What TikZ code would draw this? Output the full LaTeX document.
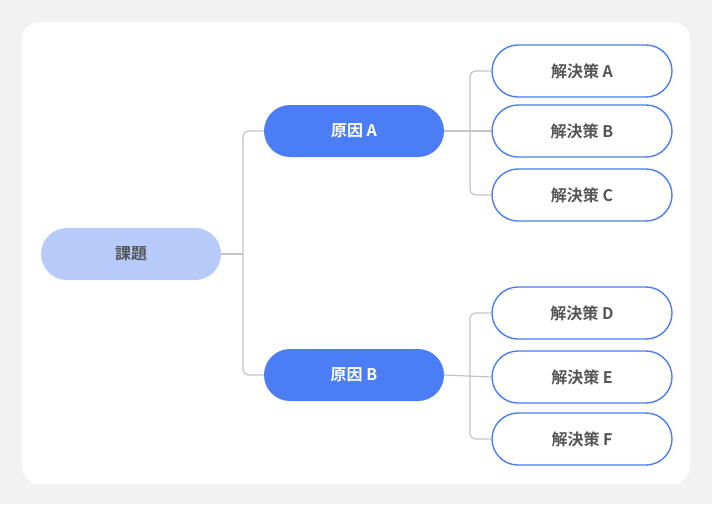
\documentclass[tikz,border=0pt]{standalone}
\usepackage{fontspec}
\setmainfont{Noto Sans CJK JP}[BoldFont={* Bold}]
\begin{document}
\begin{tikzpicture}[x=1pt,y=-1pt,
  box/.style={rounded corners=26pt,minimum width=180pt,minimum height=52pt,font=\bfseries\fontsize{16}{16}\selectfont,inner sep=0pt},
  root/.style={box,fill=rootc,text=txt},
  cause/.style={box,fill=blu,text=white},
  sol/.style={box,fill=white,draw=blu,line width=1.4pt,text=txt},
  link/.style={draw=lin,line width=1.2pt,rounded corners=6pt}]
\definecolor{bg}{HTML}{F2F2F2}
\definecolor{rootc}{HTML}{B7CBFA}
\definecolor{blu}{HTML}{4B7DF7}
\definecolor{txt}{HTML}{555555}
\definecolor{lin}{HTML}{C4C4C4}
\fill[bg] (0,0) rectangle (712,504);
\fill[white,rounded corners=18pt] (22,22) rectangle (690,484);
\node[root] (r) at (131,254) {課題};
\node[cause] (a) at (354,131) {原因\ A};
\node[cause] (b) at (354,375) {原因\ B};
\node[sol] (s1) at (582,71) {解決策\ A};
\node[sol] (s2) at (582,131) {解決策\ B};
\node[sol] (s3) at (582,195) {解決策\ C};
\node[sol] (s4) at (582,313) {解決策\ D};
\node[sol] (s5) at (582,377) {解決策\ E};
\node[sol] (s6) at (582,439) {解決策\ F};
\coordinate (j1) at (243,254);
\coordinate (j2) at (470,131);
\coordinate (j3) at (470,375);
\draw[link] (r.east) -- (j1);
\draw[link] (j1) |- (a.west);
\draw[link] (j1) |- (b.west);
\draw[link] (a.east) -- (s2.west);
\draw[link] (j2) |- (s1.west);
\draw[link] (j2) |- (s3.west);
\draw[link] (b.east) -- (s5.west);
\draw[link] (j3) |- (s4.west);
\draw[link] (j3) |- (s6.west);
\end{tikzpicture}
\end{document}
